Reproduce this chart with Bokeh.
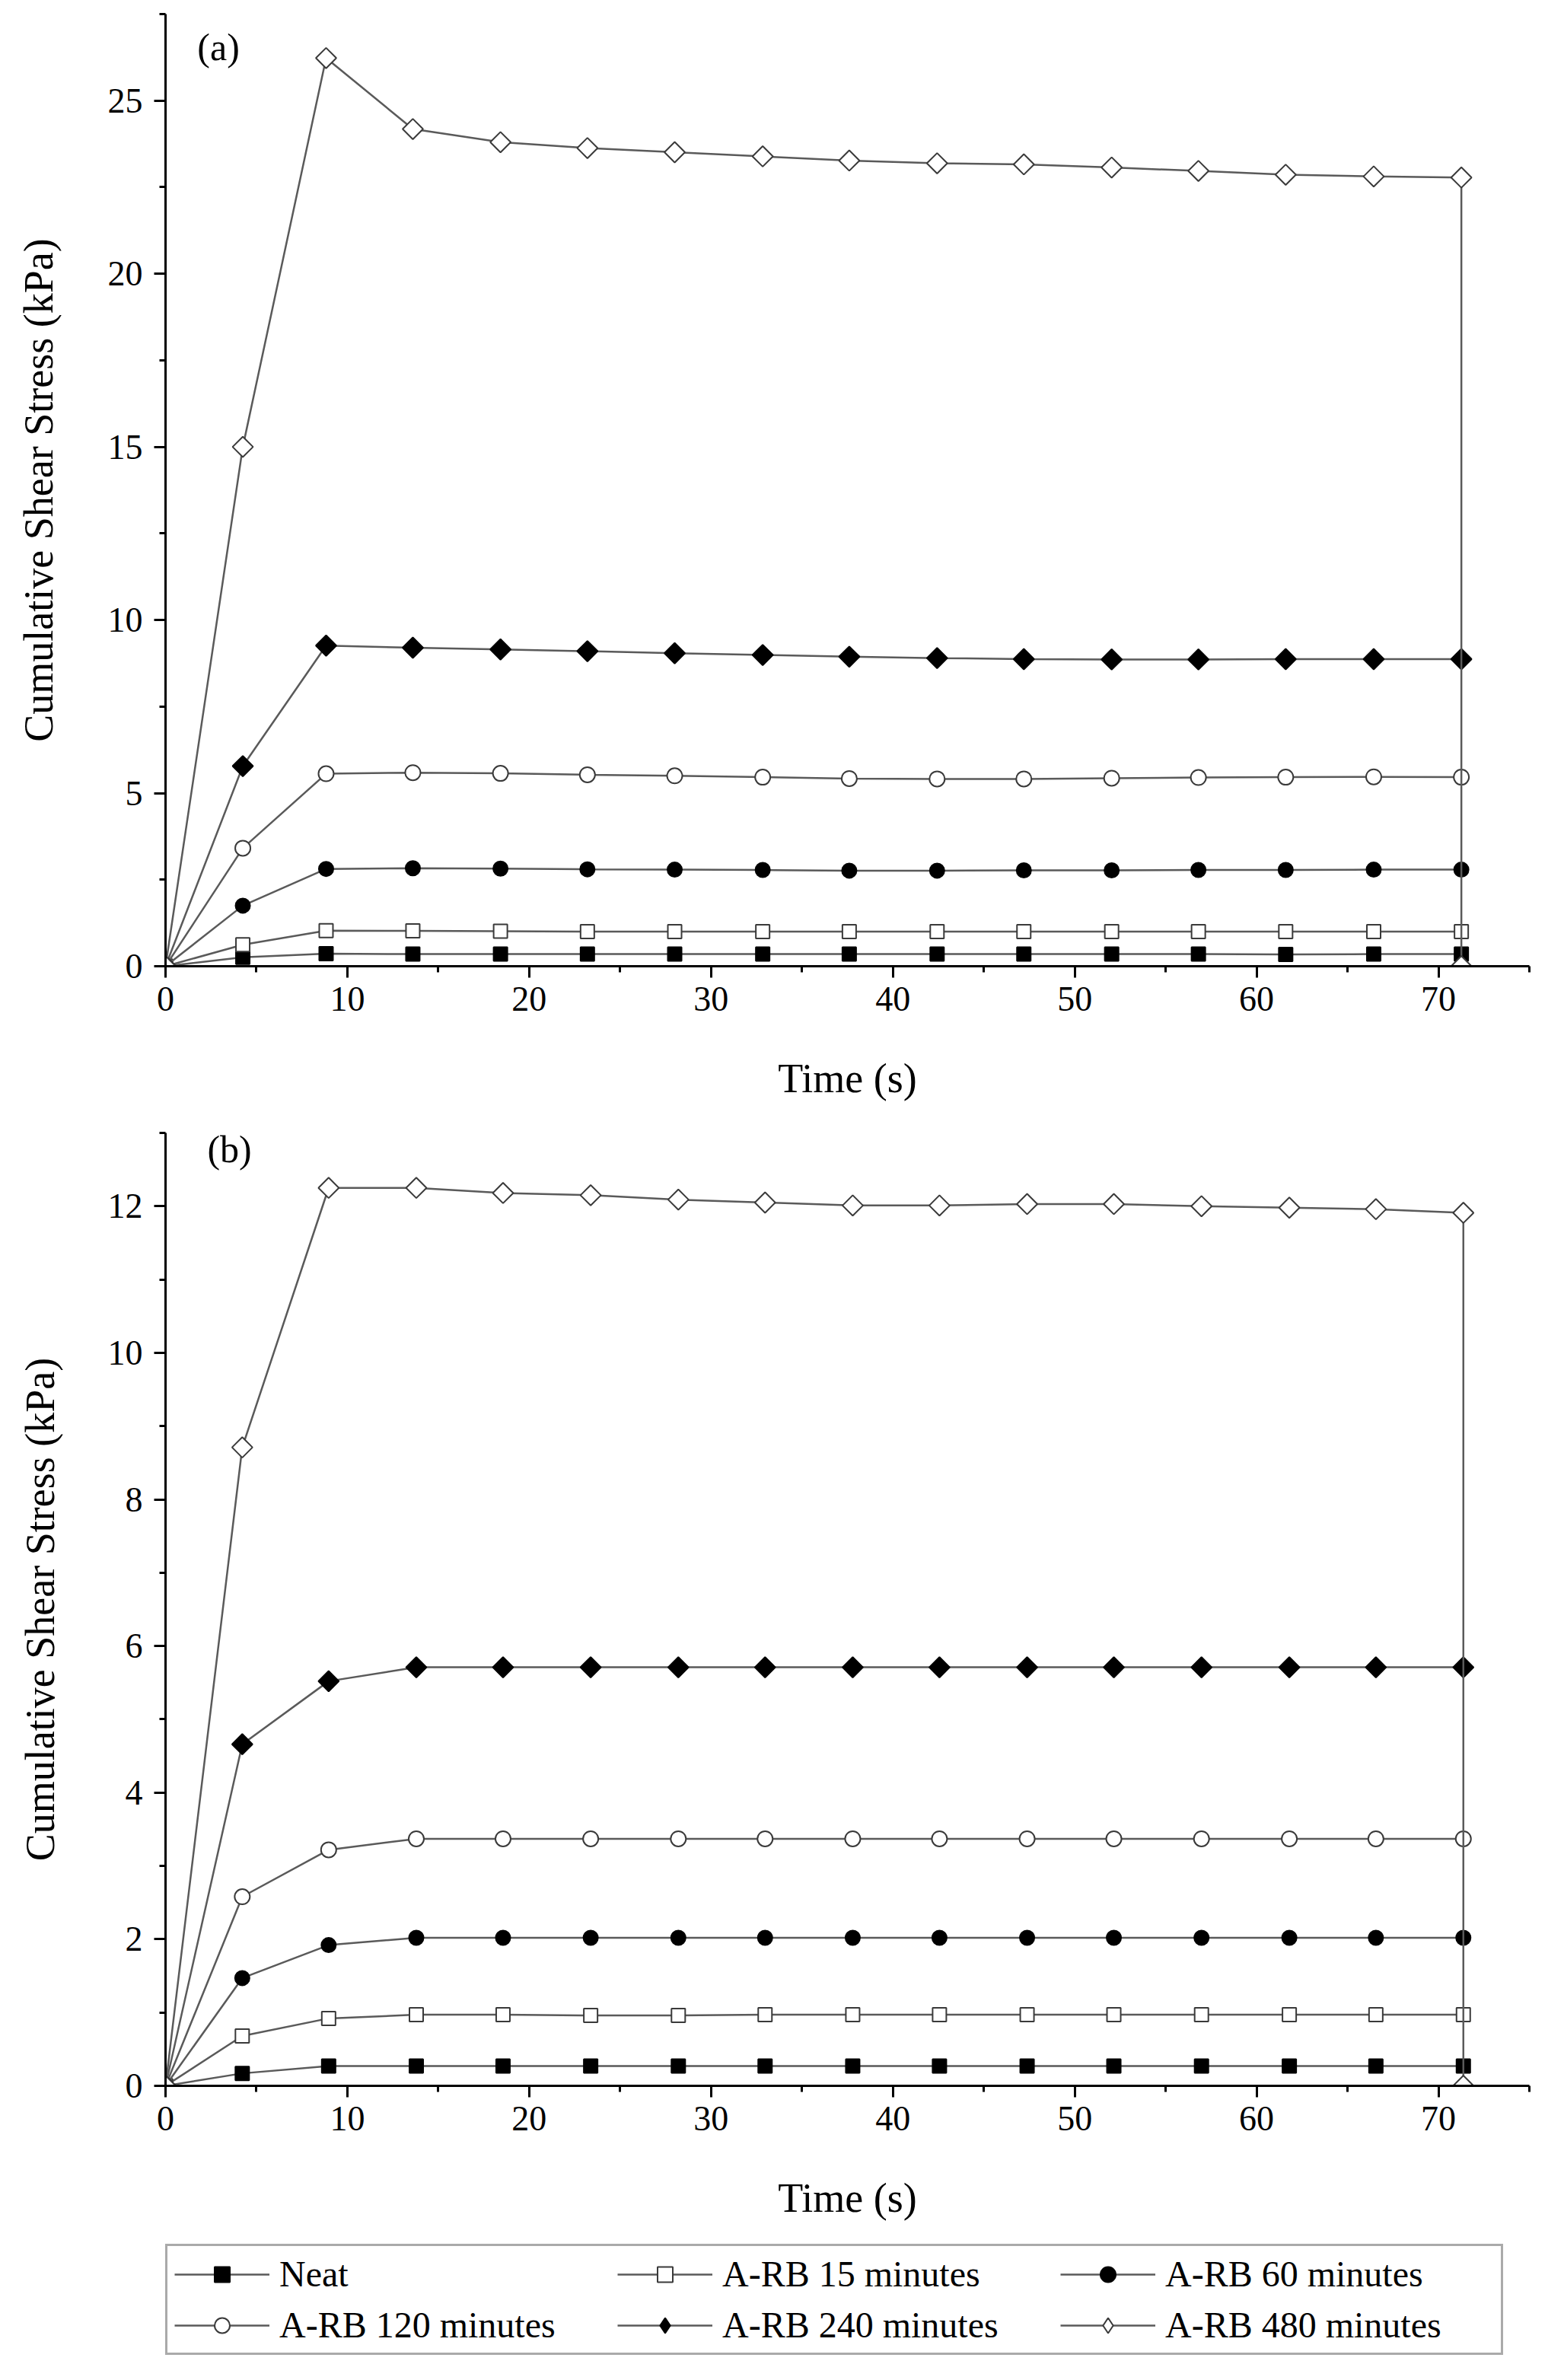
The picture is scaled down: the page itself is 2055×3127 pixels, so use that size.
import math
from bokeh.plotting import figure
from bokeh.models import Range1d, Legend, LegendItem, Label, FixedTicker
from bokeh.layouts import column
from bokeh.embed import file_html
from bokeh.resources import INLINE

FONT = "Liberation Serif"

# ---------------- data: panel (a) ----------------
time_a = [0, 4.25, 8.83, 13.6, 18.42, 23.2, 28.0, 32.84, 37.6, 42.43, 47.2, 52.03, 56.8, 61.6, 66.44, 71.26]
neat_a = [0, 0.26, 0.36, 0.35, 0.35, 0.35, 0.35, 0.35, 0.35, 0.35, 0.35, 0.35, 0.35, 0.34, 0.35, 0.35]
rb15_a = [0, 0.62, 1.03, 1.02, 1.01, 1.00, 1.00, 1.00, 1.00, 1.00, 1.00, 1.00, 1.00, 1.00, 1.00, 1.00]
rb60_a = [0, 1.75, 2.81, 2.83, 2.82, 2.80, 2.79, 2.78, 2.76, 2.76, 2.77, 2.77, 2.78, 2.78, 2.79, 2.79]
rb120_a = [0, 3.41, 5.56, 5.59, 5.57, 5.53, 5.50, 5.46, 5.42, 5.41, 5.41, 5.43, 5.45, 5.46, 5.47, 5.46]
rb240_a = [0, 5.78, 9.26, 9.20, 9.15, 9.10, 9.04, 8.99, 8.94, 8.90, 8.87, 8.86, 8.86, 8.87, 8.87, 8.87]
time480_a = [0, 4.25, 8.83, 13.6, 18.42, 23.2, 28.0, 32.84, 37.6, 42.43, 47.2, 52.03, 56.8, 61.6, 66.44, 71.26, 71.26]
rb480_a = [0, 15.0, 26.23, 24.18, 23.80, 23.63, 23.51, 23.39, 23.27, 23.19, 23.16, 23.07, 22.97, 22.86, 22.81, 22.78, 0]

# ---------------- data: panel (b) ----------------
time_b = [0, 4.22, 8.97, 13.79, 18.56, 23.38, 28.2, 32.97, 37.79, 42.56, 47.38, 52.15, 56.97, 61.8, 66.56, 71.37]
neat_b = [0, 0.17, 0.27, 0.27, 0.27, 0.27, 0.27, 0.27, 0.27, 0.27, 0.27, 0.27, 0.27, 0.27, 0.27, 0.27]
rb15_b = [0, 0.68, 0.92, 0.97, 0.97, 0.96, 0.96, 0.97, 0.97, 0.97, 0.97, 0.97, 0.97, 0.97, 0.97, 0.97]
rb60_b = [0, 1.47, 1.92, 2.02, 2.02, 2.02, 2.02, 2.02, 2.02, 2.02, 2.02, 2.02, 2.02, 2.02, 2.02, 2.02]
rb120_b = [0, 2.58, 3.22, 3.37, 3.37, 3.37, 3.37, 3.37, 3.37, 3.37, 3.37, 3.37, 3.37, 3.37, 3.37, 3.37]
rb240_b = [0, 4.66, 5.52, 5.71, 5.71, 5.71, 5.71, 5.71, 5.71, 5.71, 5.71, 5.71, 5.71, 5.71, 5.71, 5.71]
time480_b = [0, 4.22, 8.97, 13.79, 18.56, 23.38, 28.2, 32.97, 37.79, 42.56, 47.38, 52.15, 56.97, 61.8, 66.56, 71.37, 71.37]
rb480_b = [0, 8.71, 12.25, 12.25, 12.18, 12.15, 12.09, 12.05, 12.01, 12.01, 12.03, 12.03, 12.00, 11.98, 11.96, 11.91, 0]

series_names = ["Neat", "A-RB 15 minutes", "A-RB 60 minutes",
                "A-RB 120 minutes", "A-RB 240 minutes", "A-RB 480 minutes"]

x_ticks = [0, 10, 20, 30, 40, 50, 60, 70]
x_minor = [5, 15, 25, 35, 45, 55, 65, 75]
y_ticks_a = [0, 5, 10, 15, 20, 25]
y_minor_a = [2.5, 7.5, 12.5, 17.5, 22.5, 27.5]
y_ticks_b = [0, 2, 4, 6, 8, 10, 12]
y_minor_b = [1, 3, 5, 7, 9, 11, 13]

LINE_COLOR = "#5a5a5a"
# marker styles: (marker, size, fill, line, angle)
STYLES = [
    ("square", 18, "black", "black", 0.0),
    ("square", 18, "white", "#3a3a3a", 0.0),
    ("circle", 19, "black", "black", 0.0),
    ("circle", 20, "white", "#3a3a3a", 0.0),
    ("square", 19, "black", "black", math.pi / 4),
    ("square", 19, "white", "#3a3a3a", math.pi / 4),
]
# the legend samples draw the diamonds as upright diamond markers
LEGEND_STYLES = STYLES[:4] + [
    ("diamond", 25, "black", "black", 0.0),
    ("diamond", 25, "white", "#3a3a3a", 0.0),
]


def make_fig(width, height, xr, yr, bl, br, bt, bb, yticks, yminor, ylab_standoff):
    p = figure(width=width, height=height, x_range=Range1d(*xr), y_range=Range1d(*yr),
               output_backend="svg", toolbar_location=None,
               min_border_left=bl, min_border_right=br, min_border_top=bt, min_border_bottom=bb)
    p.outline_line_color = None
    p.xgrid.visible = False
    p.ygrid.visible = False
    p.background_fill_color = "white"
    p.border_fill_color = "white"
    p.xaxis.ticker = FixedTicker(ticks=x_ticks, minor_ticks=x_minor)
    p.yaxis.ticker = FixedTicker(ticks=yticks, minor_ticks=yminor)
    for ax in (p.xaxis[0], p.yaxis[0]):
        ax.axis_line_width = 3
        ax.axis_line_color = "black"
        ax.major_tick_line_width = 3
        ax.minor_tick_line_width = 3
        ax.major_tick_in = 0
        ax.major_tick_out = 15
        ax.minor_tick_in = 0
        ax.minor_tick_out = 8
        ax.major_label_text_font = FONT
        ax.major_label_text_font_size = "46px"
        ax.major_label_text_color = "black"
        ax.axis_label_text_font = FONT
        ax.axis_label_text_font_size = "54px"
        ax.axis_label_text_font_style = "normal"
        ax.axis_label_text_color = "black"
    p.xaxis.axis_label = "Time (s)"
    p.yaxis.axis_label = "Cumulative Shear Stress (kPa)"
    p.xaxis.major_label_standoff = 12
    p.xaxis.axis_label_standoff = 56
    p.yaxis.major_label_standoff = 15
    p.yaxis.axis_label_standoff = ylab_standoff
    return p


def draw_series(p, xs_list, ys_list, styles):
    items = []
    for name, xs, ys, st in zip(series_names, xs_list, ys_list, styles):
        marker, size, fill, line, ang = st
        ln = p.line(xs, ys, line_color=LINE_COLOR, line_width=2.5)
        sc = p.scatter(xs, ys, marker=marker, size=size, fill_color=fill,
                       line_color=line, line_width=2, angle=ang)
        items.append(LegendItem(label=name, renderers=[ln, sc]))
    return items


# ---------------- panel (a) ----------------
p1 = make_fig(2039, 1472, (0, 75), (0, 27.5), 207, 30, 18, 203, y_ticks_a, y_minor_a, 58)
draw_series(p1, [time_a] * 5 + [time480_a], [neat_a, rb15_a, rb60_a, rb120_a, rb240_a, rb480_a], STYLES)
p1.add_layout(Label(x=1.75, y=27.15, text="(a)", text_baseline="top", text_align="left",
                    text_font=FONT, text_font_size="50px", text_color="black"))

# ---------------- panel (b) ----------------
p2 = make_fig(2039, 1460, (0, 75), (0, 13), 217, 18, 16, 192, y_ticks_b, y_minor_b, 56)
draw_series(p2, [time_b] * 5 + [time480_b], [neat_b, rb15_b, rb60_b, rb120_b, rb240_b, rb480_b], STYLES)
p2.add_layout(Label(x=2.3, y=13.07, text="(b)", text_baseline="top", text_align="left",
                    text_font=FONT, text_font_size="50px", text_color="black"))

# ---------------- shared legend (its own strip below the panels) ----------------
# The strip's ranges lie beyond the data, so its renderers only feed the legend samples.
p3 = figure(width=2039, height=179, x_range=Range1d(-20, -10), y_range=Range1d(-20, -10),
            x_axis_type=None, y_axis_type=None, output_backend="svg", toolbar_location=None,
            min_border_left=209, min_border_top=16, min_border_right=0, min_border_bottom=0)
p3.outline_line_color = None
p3.xgrid.visible = False
p3.ygrid.visible = False
p3.border_fill_color = "white"
p3.background_fill_color = "white"
items = draw_series(p3, [time_b] * 5 + [time480_b], [neat_b, rb15_b, rb60_b, rb120_b, rb240_b, rb480_b],
                    LEGEND_STYLES)

legend = Legend(items=items, location="top_left", orientation="horizontal", ncols=3,
                padding=9, spacing=12, margin=0,
                glyph_width=125, glyph_height=50, label_standoff=13,
                label_width=432, label_height=50,
                label_text_font=FONT, label_text_font_size="48px", label_text_color="black",
                border_line_color="#555555", border_line_width=3,
                background_fill_color="white", background_fill_alpha=1.0)
p3.add_layout(legend)

layout = column(p1, p2, p3, spacing=0)
open("out.html", "w").write(file_html(layout, INLINE))
